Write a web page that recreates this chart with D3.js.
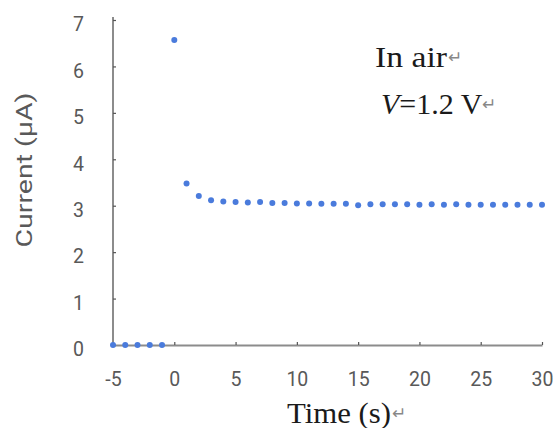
<!DOCTYPE html>
<html>
<head>
<meta charset="utf-8">
<script src="https://cdn.jsdelivr.net/npm/d3@7"></script>
<style>
  body { margin: 0; background: #fff; }
  .tick text { font-family: Roboto, "Noto Sans", sans-serif; font-size: 19.5px; fill: #595959; }
  .serif { font-family: "Liberation Serif", "Times New Roman", serif; font-size: 30px; fill: #1a1a1a; }
  .ret { font-family: "DejaVu Sans", sans-serif; font-size: 17px; fill: #888; }
</style>
</head>
<body>
<script>
var width = 560,
  height = 428;

// time in seconds, current in microamps
var times = [-5, -4, -3, -2, -1, 0, 1, 2, 3, 4, 5, 6, 7, 8, 9, 10, 11, 12, 13, 14, 15,
  16, 17, 18, 19, 20, 21, 22, 23, 24, 25, 26, 27, 28, 29, 30];
var current = [0, 0, 0, 0, 0, 6.57, 3.48, 3.21, 3.12, 3.09, 3.08, 3.07, 3.08, 3.06, 3.06, 3.05,
  3.05, 3.04, 3.04, 3.04, 3.01, 3.03, 3.03, 3.03, 3.03, 3.02, 3.03, 3.02, 3.03, 3.02, 3.02,
  3.02, 3.02, 3.02, 3.02, 3.02];
var xTicks = [-5, 0, 5, 10, 15, 20, 25, 30];
var yTicks = [0, 1, 2, 3, 4, 5, 6, 7];

var svg = d3.select('body').append('svg')
  .attr('width', width)
  .attr('height', height);

var x = d3.scaleLinear().domain([-5, 30]).range([113, 542]);
var y = d3.scaleLinear().domain([0, 7]).range([345, 20]);

var plain = function(d) { return String(d); };

var xAxis = svg.append("g")
  .attr("transform", "translate(0," + y(0) + ")")
  .call(d3.axisBottom(x).tickValues(xTicks).tickFormat(plain)
    .tickSizeInner(-3).tickSizeOuter(0).tickPadding(27));

var yAxis = svg.append("g")
  .attr("transform", "translate(" + x(-5) + ",0)")
  .call(d3.axisLeft(y).tickValues(yTicks).tickFormat(plain)
    .tickSizeInner(-3).tickSizeOuter(0).tickPadding(29));

yAxis.selectAll(".tick text").attr("dy", "0.55em");

[xAxis, yAxis].forEach(function(a) {
  a.select(".domain").attr("stroke", "#8c8c8c").attr("stroke-width", 2);
  a.selectAll(".tick line").attr("stroke", "#555").attr("stroke-width", 1.2);
});
yAxis.select(".domain").attr("d", "M0," + y(0) + "V17");

svg.append("g")
  .selectAll("circle")
  .data(times)
  .enter().append("circle")
    .attr("cx", function(d) { return x(d); })
    .attr("cy", function(d, i) { return y(current[i]); })
    .attr("r", 3)
    .attr("fill", "#4a7bdc");

// y axis title
svg.append("text")
  .attr("transform", "translate(32,170) rotate(-90)")
  .attr("text-anchor", "middle")
  .attr("textLength", 155)
  .attr("lengthAdjust", "spacingAndGlyphs")
  .style("font-family", "Roboto, 'Noto Sans', sans-serif")
  .style("font-size", "22px")
  .style("fill", "#595959")
  .text("Current (μA)");

// x axis title
svg.append("text")
  .attr("class", "serif")
  .attr("x", 287)
  .attr("y", 423)
  .attr("textLength", 104)
  .attr("lengthAdjust", "spacingAndGlyphs")
  .text("Time (s)");
svg.append("text").attr("class", "ret").attr("x", 392).attr("y", 419).text("↵");

// annotations
svg.append("text")
  .attr("class", "serif")
  .attr("x", 375)
  .attr("y", 67)
  .attr("textLength", 72)
  .attr("lengthAdjust", "spacingAndGlyphs")
  .text("In air");
svg.append("text").attr("class", "ret").attr("x", 448).attr("y", 63).text("↵");

var vt = svg.append("text")
  .attr("class", "serif")
  .attr("x", 381)
  .attr("y", 114);
vt.append("tspan").style("font-style", "italic").text("V");
vt.append("tspan").text("=1.2 V");
svg.append("text").attr("class", "ret").attr("x", 482).attr("y", 110).text("↵");
</script>
</body>
</html>
